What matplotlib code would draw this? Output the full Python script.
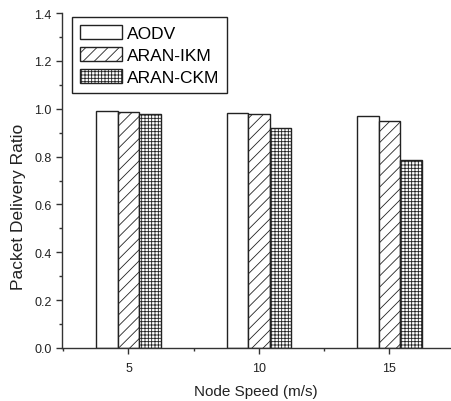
import matplotlib.pyplot as plt
import numpy as np
from matplotlib.ticker import MultipleLocator

plt.rcParams['font.family'] = ['Liberation Sans', 'DejaVu Sans']
plt.rcParams['hatch.linewidth'] = 0.6

speeds = [5, 10, 15]
aodv = [0.990, 0.982, 0.970]
aran_ikm = [0.988, 0.976, 0.948]
aran_ckm = [0.980, 0.920, 0.786]
labels = ["AODV", "ARAN-IKM", "ARAN-CKM"]
hatches = ["", "///", "+++++"]

fig = plt.figure(figsize=(4.52, 4.02), dpi=100)
ax = fig.add_axes([0.137, 0.132, 0.866, 0.833])

x = np.array(speeds, dtype=float)
w = 0.82
for i, (vals, lab, h) in enumerate(zip([aodv, aran_ikm, aran_ckm], labels, hatches)):
    ax.bar(x + (i - 1) * w, vals, width=w, color="white", edgecolor="#222222",
           linewidth=1.0, hatch=h, label=lab)

ax.set_xlim(2.45, 17.45)
ax.set_ylim(0, 1.4)
ax.set_xticks(speeds)
ax.xaxis.set_minor_locator(MultipleLocator(2.5))
ax.yaxis.set_major_locator(MultipleLocator(0.2))
ax.yaxis.set_minor_locator(MultipleLocator(0.1))
ax.yaxis.set_major_formatter(plt.FuncFormatter(lambda v, p: f"{v:.1f}"))

for s in ["top", "right"]:
    ax.spines[s].set_visible(False)
for s in ["left", "bottom"]:
    ax.spines[s].set_color("#333333")
    ax.spines[s].set_linewidth(1.0)

ax.tick_params(which="major", direction="out", length=4, width=1, colors="#333333",
               labelsize=9, labelcolor="#222222")
ax.tick_params(axis="x", which="major", pad=6)
ax.tick_params(which="minor", direction="out", length=2, width=1, colors="#333333")

ax.set_xlabel("Node Speed (m/s)", fontsize=11, color="#222222")
ax.set_ylabel("Packet Delivery Ratio", fontsize=12.5, color="#222222")
ax.xaxis.set_label_coords(0.495, -0.128)
ax.xaxis.label.set_va("center")
ax.yaxis.set_label_coords(-0.112, 0.424)
ax.yaxis.label.set_va("center")

leg = ax.legend(loc="upper left", bbox_to_anchor=(0.026, 0.988), fontsize=12.5,
                handlelength=2.4, handleheight=0.85, labelspacing=0.36,
                handletextpad=0.3, borderpad=0.45, borderaxespad=0,
                fancybox=False, framealpha=1)
leg.get_frame().set_edgecolor("#222222")
leg.get_frame().set_linewidth(1.0)

fig.savefig("out.png", dpi=100)
